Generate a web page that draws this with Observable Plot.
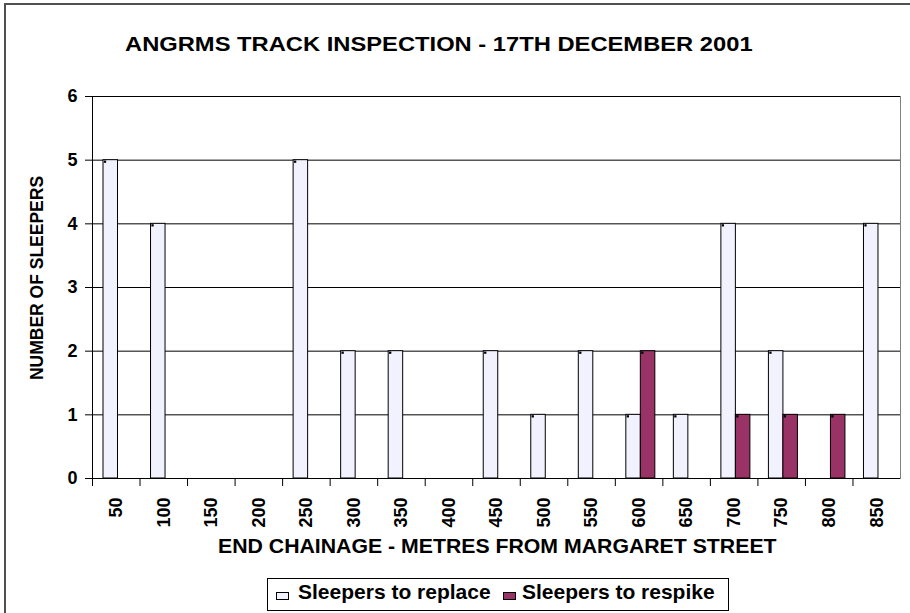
<!DOCTYPE html>
<html>
<head>
<meta charset="utf-8">
<script src="https://cdn.jsdelivr.net/npm/d3@7"></script>
<script src="https://cdn.jsdelivr.net/npm/@observablehq/plot@0.6"></script>
<style>
  html, body { margin: 0; padding: 0; background: #fff; }
  #wrap { position: relative; width: 910px; height: 613px; overflow: hidden; background: #fff;
          font-family: "Liberation Sans", Arial, sans-serif; font-weight: bold; color: #000; }
  #border { position: absolute; left: 4px; top: 3px; width: 1000px; height: 1000px; border: 2px solid #505050; box-sizing: border-box; }
  #chart { position: absolute; left: 0; top: 0; }
  .txt { position: absolute; white-space: nowrap; line-height: 1; }
  #title { left: 125px; top: 33px; font-size: 21px; transform: scaleX(1.13); transform-origin: left center; }
  #xtitle { left: 218px; top: 537px; font-size: 19.5px; transform: scaleX(1.09); transform-origin: left center; }
  #ytitle { left: 38px; top: 278px; font-size: 17.5px; transform: translate(-50%, -50%) rotate(-90deg); }
  #legend { position: absolute; left: 267px; top: 578px; width: 462px; height: 33px; border: 1px solid #000; box-sizing: border-box; background: #fff; }
  .sw { position: absolute; width: 13px; height: 8px; border: 1px solid #000; box-sizing: border-box; }
  .lt { position: absolute; font-size: 21px; line-height: 21px; white-space: nowrap; }
</style>
</head>
<body>
<div id="wrap">
  <div id="border"></div>
  <div id="chart"></div>
  <div id="title" class="txt"></div>
  <div id="ytitle" class="txt"></div>
  <div id="xtitle" class="txt"></div>
  <div id="legend"></div>
</div>
<script>
// ---- data ----
const titleText = "ANGRMS TRACK INSPECTION - 17TH DECEMBER 2001";
const yTitle = "NUMBER OF SLEEPERS";
const xTitle = "END CHAINAGE - METRES FROM MARGARET STREET";
const categories = ["50","100","150","200","250","300","350","400","450","500","550","600","650","700","750","800","850"];
const replaceValues = [5, 4, 0, 0, 5, 2, 2, 0, 2, 1, 2, 1, 1, 4, 2, 0, 4];
const respikeValues = [0, 0, 0, 0, 0, 0, 0, 0, 0, 0, 0, 2, 0, 1, 1, 1, 0];
const seriesNames = ["Sleepers to replace", "Sleepers to respike"];
const seriesColors = ["#f2f2ff", "#993366"];
const yTicks = [0, 1, 2, 3, 4, 5, 6];

// ---- tables built from the arrays ----
const replaceData = categories.map((c, i) => ({cat: c, v: replaceValues[i]}));
const respikeData = categories.map((c, i) => ({cat: c, v: respikeValues[i]}));

const W = 910, H = 613, mL = 92, mR = 10, mT = 96, mB = 135;
const band = (W - mL - mR) / categories.length;
const l1 = 11, r1 = 25.5, r2 = 40;

const chart = Plot.plot({
  width: W, height: H,
  marginTop: mT, marginLeft: mL, marginRight: mR, marginBottom: mB,
  x: {domain: categories, padding: 0, round: false, axis: null},
  y: {domain: [0, 6], axis: null},
  style: {fontFamily: '"Liberation Sans", Arial, sans-serif', fontWeight: "bold", color: "#000", background: "transparent", overflow: "visible"},
  marks: [
    Plot.frame({stroke: "#808080"}),
    Plot.gridY(yTicks, {stroke: "#000", strokeOpacity: 1}),
    Plot.barY(replaceData, {x: "cat", y: "v", fill: seriesColors[0], stroke: "#000", strokeWidth: 1, insetLeft: l1, insetRight: band - r1}),
    Plot.barY(respikeData, {x: "cat", y: "v", fill: seriesColors[1], stroke: "#000", strokeWidth: 1, insetLeft: r1, insetRight: band - r2}),
    // small corner markers at the top-left of each bar
    Plot.dot(replaceData.filter(d => d.v > 0), {x: "cat", y: "v", symbol: "square", r: 1.3, fill: "#000", stroke: "none", dx: l1 - band / 2 + 1.5, dy: 1.5}),
    Plot.dot(respikeData.filter(d => d.v > 0), {x: "cat", y: "v", symbol: "square", r: 1.3, fill: "#000", stroke: "none", dx: r1 - band / 2 + 1.5, dy: 1.5}),
    Plot.axisY(yTicks, {tickSize: 7, tickPadding: 8, fontSize: 18, tickFormat: d3.format("d"), label: null}),
    Plot.axisX({tickSize: 8, dx: -band / 2, tickFormat: () => "", label: null}),
    Plot.axisX({tickSize: 0, tickPadding: 19, tickRotate: -90, fontSize: 18, label: null}),
    Plot.frame({anchor: "left", stroke: "#000"})
  ]
});
document.getElementById("chart").appendChild(chart);

document.getElementById("title").textContent = titleText;
document.getElementById("ytitle").textContent = yTitle;
document.getElementById("xtitle").textContent = xTitle;

// legend
const legend = document.getElementById("legend");
const swLeft = [8, 235], txLeft = [30, 254];
seriesNames.forEach((name, i) => {
  const sw = document.createElement("div");
  sw.className = "sw";
  sw.style.left = swLeft[i] + "px";
  sw.style.top = "13px";
  sw.style.background = seriesColors[i];
  legend.appendChild(sw);
  const t = document.createElement("div");
  t.className = "lt";
  t.style.left = txLeft[i] + "px";
  t.style.top = "2px";
  t.textContent = name;
  legend.appendChild(t);
});
</script>
</body>
</html>
